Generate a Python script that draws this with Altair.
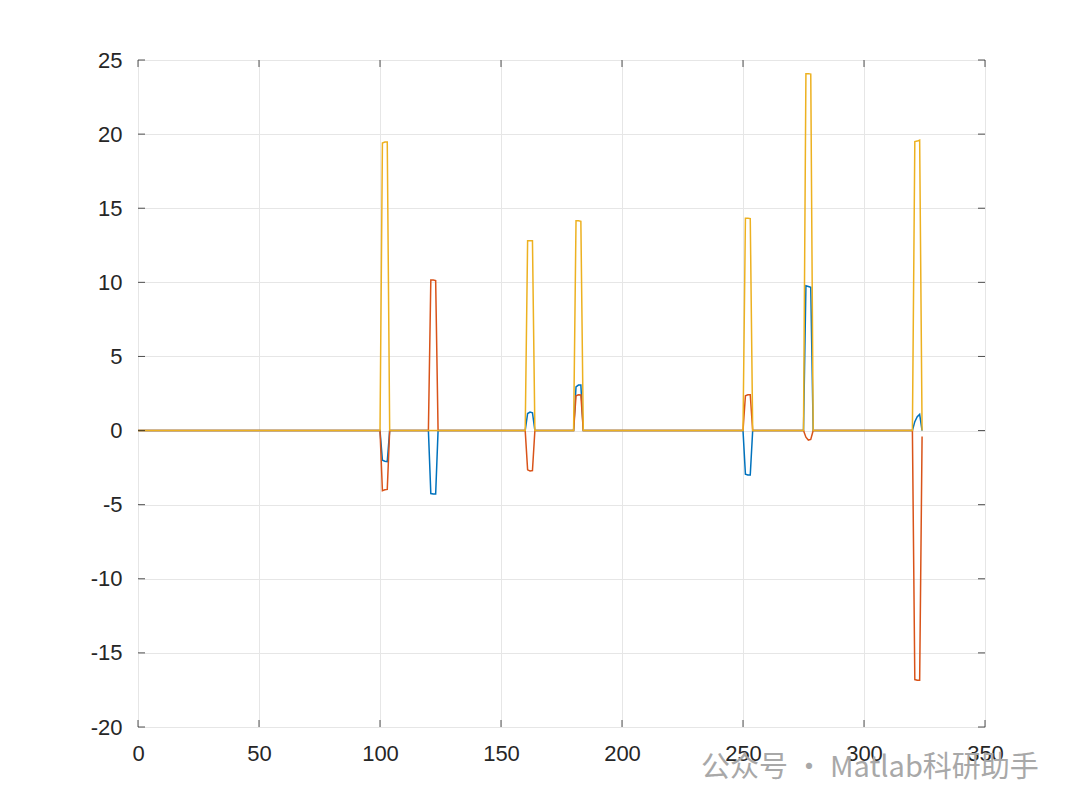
import altair as alt
import pandas as pd

# ---- data ----
N = 325  # samples at x = 0..324
x_vals = list(range(N))

# spike start indices (each spike covers 3 samples)
spike_starts = [101, 121, 161, 181, 251, 276, 321]

blue_spikes = [
    [-2.00, -2.07, -2.10],
    [-4.25, -4.28, -4.28],
    [1.15, 1.25, 1.20],
    [2.95, 3.07, 3.07],
    [-2.95, -3.00, -3.00],
    [9.77, 9.72, 9.66],
    [0.60, 0.93, 1.09],
]
red_spikes = [
    [-4.06, -4.00, -3.97],
    [10.15, 10.15, 10.12],
    [-2.65, -2.72, -2.70],
    [2.35, 2.42, 2.40],
    [2.35, 2.42, 2.42],
    [-0.45, -0.64, -0.60],
    [-16.80, -16.84, -16.84],
]
yellow_spikes = [
    [19.40, 19.47, 19.47],
    [0.00, 0.00, 0.00],
    [12.81, 12.81, 12.81],
    [14.16, 14.16, 14.12],
    [14.32, 14.32, 14.30],
    [24.08, 24.08, 24.05],
    [19.50, 19.53, 19.60],
]
# last sample (x = 324)
last_blue, last_red, last_yellow = 0.0, -0.40, 0.0

x_ticks = [0, 50, 100, 150, 200, 250, 300, 350]
y_ticks = [-20, -15, -10, -5, 0, 5, 10, 15, 20, 25]


def build(spikes, last):
    vals = [0.0] * N
    for s, seg in zip(spike_starts, spikes):
        for k, v in enumerate(seg):
            vals[s + k] = v
    vals[N - 1] = last
    return pd.DataFrame({"x": x_vals, "y": vals})


df_b = build(blue_spikes, last_blue)
df_r = build(red_spikes, last_red)
df_y = build(yellow_spikes, last_yellow)

W, H = 847, 667
TL = 7
xs = alt.Scale(domain=[0, 350], nice=False, zero=False)
ys = alt.Scale(domain=[-20, 25], nice=False, zero=False)

xaxis = alt.Axis(values=x_ticks, title=None, grid=True, ticks=False,
                 labelFontSize=22, labelColor="#262626", labelPadding=16,
                 labelFont="Liberation Sans", domain=False, labelFlush=False,
                 labelExpr="toString(datum.value)",
                 gridColor="#e6e6e6", gridWidth=1)
yaxis = alt.Axis(values=y_ticks, title=None, grid=True, ticks=False,
                 labelFontSize=22, labelColor="#262626", labelPadding=16,
                 labelFont="Liberation Sans", domain=False, labelFlush=False,
                 labelExpr="toString(datum.value)",
                 gridColor="#e6e6e6", gridWidth=1)


def line(df, color):
    return alt.Chart(df).mark_line(color=color, strokeWidth=1.5, clip=True).encode(
        x=alt.X("x:Q", scale=xs, axis=xaxis),
        y=alt.Y("y:Q", scale=ys, axis=yaxis),
    )


xt = pd.DataFrame({"v": x_ticks})
yt = pd.DataFrame({"v": y_ticks})
tick_col = "#262626"
xtick_bot = alt.Chart(xt).mark_rule(color=tick_col, strokeWidth=0.8).encode(
    x=alt.X("v:Q", scale=xs, axis=xaxis), y=alt.value(H), y2=alt.value(H - TL))
xtick_top = alt.Chart(xt).mark_rule(color=tick_col, strokeWidth=0.8).encode(
    x=alt.X("v:Q", scale=xs, axis=xaxis), y=alt.value(0), y2=alt.value(TL))
ytick_l = alt.Chart(yt).mark_rule(color=tick_col, strokeWidth=0.8).encode(
    y=alt.Y("v:Q", scale=ys, axis=yaxis), x=alt.value(0), x2=alt.value(TL))
ytick_r = alt.Chart(yt).mark_rule(color=tick_col, strokeWidth=0.8).encode(
    y=alt.Y("v:Q", scale=ys, axis=yaxis), x=alt.value(W), x2=alt.value(W - TL))

watermark = alt.Chart(pd.DataFrame({"t": ["公众号 · Matlab科研助手"]})).mark_text(
    align="left", baseline="middle", fontSize=29, color="#a8a8a8",
    font="Noto Sans CJK SC").encode(
    text="t:N", x=alt.value(563), y=alt.value(708))

chart = alt.layer(
    line(df_b, "#0072BD"),
    line(df_r, "#D95319"),
    line(df_y, "#EDB120"),
    xtick_bot, xtick_top, ytick_l, ytick_r,
    watermark,
).properties(
    width=W, height=H,
    autosize=alt.AutoSizeParams(type="none"),
    padding={"left": 130, "top": 52, "right": 80, "bottom": 70},
).configure_view(
    stroke="#262626", strokeWidth=1
).configure(background="white")

chart.save("out.html", embed_options={"renderer": "svg", "actions": False})
